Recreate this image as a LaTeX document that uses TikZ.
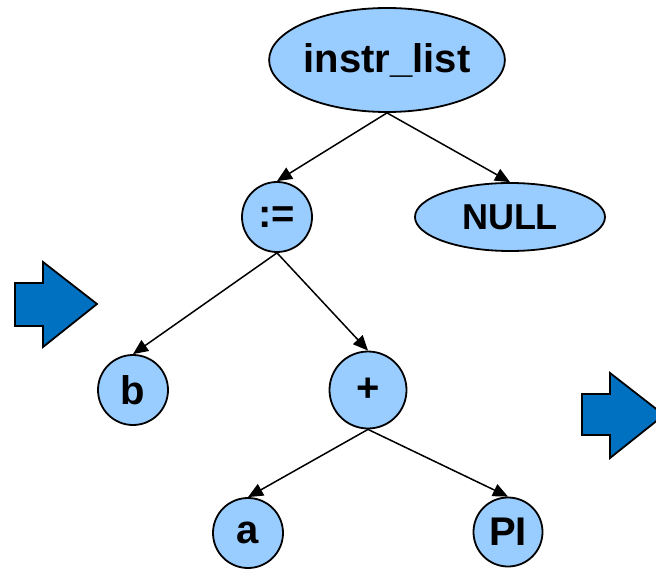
\documentclass[tikz,border=0pt]{standalone}
\usepackage{fontspec}
\setmainfont{Liberation Sans}
\usetikzlibrary{shapes.geometric,arrows.meta}
\definecolor{nodeblue}{RGB}{153,204,255}
\definecolor{arrowblue}{RGB}{0,112,192}

\begin{document}
\begin{tikzpicture}[
					x=1pt, y=-1pt,
					line cap=round,
					line join=round,
					>={Triangle[length=15pt,width=13pt]},
					knot/.style={circle, draw, line width=1.8pt, fill=nodeblue,
						inner sep=0pt, font=\fontsize{40}{46}\bfseries},
					oval/.style={ellipse, draw, line width=1.8pt, fill=nodeblue,
						inner sep=0pt, font=\fontsize{40}{46}\bfseries},
					link/.style={->, line width=1.5pt},
					fatarrow/.style={draw, line width=1.8pt, fill=arrowblue, line join=miter}
					]
					\useasboundingbox (0,0) rectangle (656,569);
					
					% Vị trí các nút
					\coordinate (L)  at (387,60);
					\coordinate (G)  at (277,217);
					\coordinate (U)  at (510,217);
					\coordinate (B)  at (133,390);
					\coordinate (P)  at (368,390);
					\coordinate (A)  at (248,533);
					\coordinate (I)  at (508,532);
					
					% Các nút của cây
					\node[oval, minimum width=232pt, minimum height=104pt] (list) at (L) {instr\_list};
					\node[knot, minimum size=70pt] (assign) at (G) {:=};
					\node[oval, minimum width=190pt, minimum height=68pt,
						font=\fontsize{36}{42}\bfseries] (null) at (U) {NULL};
					\node[knot, minimum size=70pt] (b) at (B) {b};
					\node[knot, minimum size=77pt] (plus) at (P) {+};
					\node[knot, minimum size=70pt] (a) at (A) {a};
					\node[knot, minimum size=69pt] (pi) at (I) {PI};
					
					% Các cạnh
					\draw[link] (list.south) -- (assign.north);
					\draw[link] (list.south) -- (null.north);
					\draw[link] (assign.south) -- (b.north);
					\draw[link] (assign.south) -- (plus.north);
					\draw[link] (plus.south) -- (a.north);
					\draw[link] (plus.south) -- (pi.north);
					
					% Hai mũi tên xanh
					\draw[fatarrow] (15,283) -- (43,283) -- (43,262) -- (97,304)
						-- (43,347) -- (43,326) -- (15,326) -- cycle;
					\draw[fatarrow] (582,394) -- (610,394) -- (610,373) -- (664,415)
						-- (610,458) -- (610,435) -- (582,435) -- cycle;
					
				\end{tikzpicture}
\end{document}
